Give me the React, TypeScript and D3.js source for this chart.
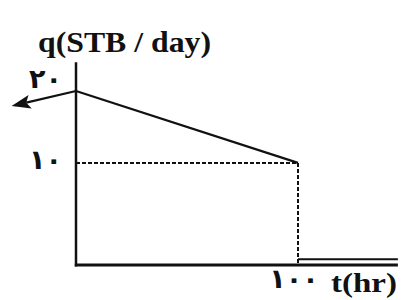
import React from "react";
import * as d3 from "d3";

// Rate history (schematic): decline from 20 to 10 STB/day over 0-100 hr, then shut-in
const declineT = [0, 100];
const declineQ = [20, 10];
const shutT = [100, 145];
const shutQ = [-3.4, -3.4];
const arrowT = [0, -29];
const arrowQ = [20, 17.9];
const yTickVals = [20, 10];
const yTickLabels = ["۲۰", "۱۰"];
const xTickVals = [100];
const xTickLabels = ["۱۰۰"];
const yTitle = "q(STB / day)";
const xTitle = "t(hr)";
const axisFloor = -4.2;
const axisTop = 24;
const axisRight = 145;

const serifStyle = { fontFamily: "'Liberation Serif', 'Times New Roman', serif", fontWeight: 700 as const };
const digitStyle = { fontFamily: "'DejaVu Sans', sans-serif", fontWeight: 700 as const };

export default function App() {
  const W = 401, H = 300;
  const x = d3.scaleLinear().domain([0, 100]).range([76, 298]);
  const y = d3.scaleLinear().domain([axisFloor, 20]).range([265, 91]);
  const line = d3.line<[number, number]>().x(d => x(d[0])).y(d => y(d[1]));
  const decline = line(declineT.map((t, i) => [t, declineQ[i]]) as [number, number][]) || "";
  const shut = line(shutT.map((t, i) => [t, shutQ[i]]) as [number, number][]) || "";
  const ax0 = x(arrowT[0]), ay0 = y(arrowQ[0]);
  const ax1 = x(arrowT[1]), ay1 = y(arrowQ[1]);
  const ang = Math.atan2(ay1 - ay0, ax1 - ax0);
  const headLen = 19, headW = 7;
  const bx = ax1 - headLen * Math.cos(ang), by = ay1 - headLen * Math.sin(ang);
  const nx = -Math.sin(ang), ny = Math.cos(ang);
  const head = `M${ax1},${ay1}L${bx + nx * headW},${by + ny * headW}L${bx + 4 * Math.cos(ang)},${by + 4 * Math.sin(ang)}L${bx - nx * headW},${by - ny * headW}Z`;
  const lineEnd = [bx + 4 * Math.cos(ang), by + 4 * Math.sin(ang)];
  return (
    <svg width={W} height={H} style={{ position: "absolute", left: 0, top: 0, background: "#fff" }}>
      {/* axes */}
      <line x1={x(0)} x2={x(0)} y1={y(axisTop)} y2={y(axisFloor) + 1.5} stroke="#111" strokeWidth={2.5} />
      <line x1={x(0) - 1.2} x2={x(axisRight)} y1={y(axisFloor)} y2={y(axisFloor)} stroke="#111" strokeWidth={3} />
      {/* dashed guides */}
      <line x1={x(0)} x2={x(100)} y1={y(10)} y2={y(10)} stroke="#111" strokeWidth={2} strokeDasharray="4,2" />
      <line x1={x(100)} x2={x(100)} y1={y(10)} y2={y(axisFloor)} stroke="#111" strokeWidth={2} strokeDasharray="4,2" />
      {/* rate */}
      <path d={decline} fill="none" stroke="#111" strokeWidth={2.2} />
      <path d={shut} fill="none" stroke="#111" strokeWidth={2.2} />
      {/* arrow */}
      <line x1={ax0} y1={ay0} x2={lineEnd[0]} y2={lineEnd[1]} stroke="#111" strokeWidth={2.2} />
      <path d={head} fill="#111" />
      {/* tick labels */}
      {yTickVals.map((v, i) => (
        <text key={i} x={62} y={i === 0 ? y(v) - 3 : y(v) + 6} textAnchor="end"
          style={digitStyle} fontSize={27} fill="#111">{yTickLabels[i]}</text>
      ))}
      {xTickVals.map((v, i) => (
        <text key={i} x={x(v) - 4} y={288} textAnchor="middle"
          style={digitStyle} fontSize={27} fill="#111">{xTickLabels[i]}</text>
      ))}
      <text x={38} y={52} textLength={173} lengthAdjust="spacingAndGlyphs" style={serifStyle} fontSize={29}
        fill="#111">{yTitle}</text>
      <text x={397} y={292} textLength={66} lengthAdjust="spacingAndGlyphs" textAnchor="end" style={serifStyle} fontSize={27}
        fill="#111">{xTitle}</text>
    </svg>
  );
}
